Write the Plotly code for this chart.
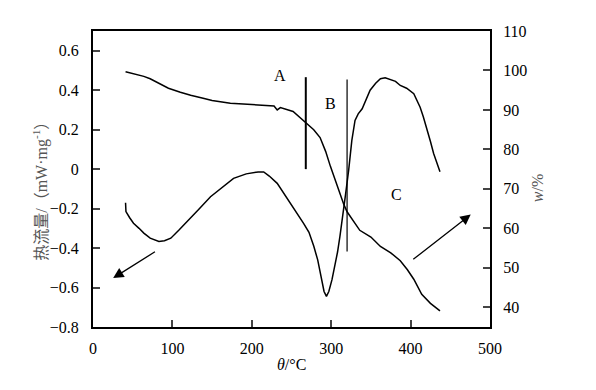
import plotly.graph_objects as go

# TG curve (right axis, w/%)
tg_t = [41, 50, 64, 72, 81, 95, 110, 123, 140, 150, 173, 195, 215, 228, 232, 236, 252, 261, 269,
        278, 286, 293, 299, 306, 312, 316, 320, 324, 336, 350, 362, 375, 387, 396, 404, 414, 425, 437]
tg_w = [99.7, 99.3, 98.5, 97.9, 97.0, 95.5, 94.5, 93.7, 92.9, 92.4, 91.7, 91.4, 91.3, 91.0, 90.0,
        90.6, 89.6, 88.0, 86.7, 85.0, 83.0, 79.5, 75.7, 71.5, 68.0, 66.0, 64.2, 63.1, 59.5, 57.8,
        55.4, 53.8, 51.8, 49.5, 47.1, 43.3, 41.0, 39.1]

# DSC curve (left axis, heat flow)
dsc_t = [41, 41.5, 46, 51, 58, 64, 72, 83, 90, 98, 108, 118, 133, 148, 163, 177, 193, 200, 208, 215,
         222, 232, 240, 248, 256, 265, 272, 278, 283, 287, 291, 294, 297, 301, 304, 308, 311, 315,
         318, 322, 326, 330, 334, 339, 344, 349, 356, 362, 368, 375, 381, 387, 395, 404, 408, 412,
         416, 420, 425, 429, 433, 437]
dsc_v = [-0.17, -0.215, -0.245, -0.274, -0.30, -0.324, -0.35, -0.367, -0.363, -0.35, -0.31, -0.266,
         -0.205, -0.14, -0.09, -0.047, -0.024, -0.018, -0.014, -0.014, -0.035, -0.072, -0.12, -0.173,
         -0.22, -0.274, -0.32, -0.39, -0.46, -0.55, -0.62, -0.645, -0.62, -0.56, -0.50, -0.42, -0.341,
         -0.23, -0.13, -0.005, 0.146, 0.247, 0.28, 0.306, 0.35, 0.40, 0.435, 0.458, 0.463, 0.455,
         0.445, 0.424, 0.41, 0.382, 0.35, 0.314, 0.265, 0.213, 0.14, 0.079, 0.03, -0.013]

x_ticks = [0, 100, 200, 300, 400, 500]
left_ticks = [-0.8, -0.6, -0.4, -0.2, 0, 0.2, 0.4, 0.6]
left_labels = ["\u22120.8", "\u22120.6", "\u22120.4", "\u22120.2", "0", "0.2", "0.4", "0.6"]
right_ticks = [40, 50, 60, 70, 80, 90, 100, 110]

# stage markers
line_a = dict(t=268, v0=0.0, v1=0.466)
line_b = dict(t=320, v0=-0.417, v1=0.454)
stage_labels = ["A", "B", "C"]
stage_t = [235, 299, 382]
stage_v = [0.474, 0.332, -0.131]

serif = "Liberation Serif, Times New Roman, serif"

fig = go.Figure()
fig.add_trace(go.Scatter(x=dsc_t, y=dsc_v, mode="lines", line=dict(color="black", width=1.5),
                         yaxis="y", showlegend=False))
fig.add_trace(go.Scatter(x=tg_t, y=tg_w, mode="lines", line=dict(color="black", width=1.5),
                         yaxis="y2", showlegend=False))

fig.add_shape(type="line", xref="x", yref="y", x0=line_a["t"], x1=line_a["t"],
              y0=line_a["v0"], y1=line_a["v1"], line=dict(color="black", width=2))
fig.add_shape(type="line", xref="x", yref="y", x0=line_b["t"], x1=line_b["t"],
              y0=line_b["v0"], y1=line_b["v1"], line=dict(color="black", width=1.2))

annotations = []
for lab, t, v in zip(stage_labels, stage_t, stage_v):
    annotations.append(dict(x=t, y=v, xref="x", yref="y", text=lab, showarrow=False,
                            font=dict(family=serif, size=16, color="black")))

# arrows
annotations.append(dict(x=25.4, y=-0.552, ax=79.9, ay=-0.414, xref="x", yref="y", axref="x",
                        ayref="y", text="", showarrow=True, arrowhead=2, arrowsize=1.6,
                        arrowwidth=1.3, arrowcolor="black"))
annotations.append(dict(x=475.7, y=-0.23, ax=401.5, ay=-0.463, xref="x", yref="y", axref="x",
                        ayref="y", text="", showarrow=True, arrowhead=2, arrowsize=1.6,
                        arrowwidth=1.3, arrowcolor="black"))

# axis titles (positions in window pixels, converted below)
annotations.append(dict(x=28, y=188, xref="paper", yref="paper", text="热流量/（mW·mg<sup>-1</sup>）",
                        showarrow=False, textangle=-90,
                        font=dict(family="Liberation Serif, Noto Sans CJK SC", size=16, color="#555")))
annotations.append(dict(x=291, y=376, xref="paper", yref="paper", text="<i>θ</i>/°C",
                        showarrow=False, font=dict(family=serif, size=16, color="black")))
annotations.append(dict(x=548, y=188, xref="paper", yref="paper", text="<i>w</i>/%",
                        showarrow=False, textangle=-90, font=dict(family=serif, size=16, color="#555")))

OFF = 8  # default body margin of the html page
L, R, T, B = 92.5 - OFF, 106, 31 - OFF, 62.5
W, H = 596 - OFF, 390 - OFF
pw, ph = W - L - R, H - T - B
for a in annotations[-3:]:
    px, py = a["x"] - OFF, a["y"] - OFF
    a["x"] = (px - L) / pw
    a["y"] = 1 - (py - T) / ph

fig.update_layout(
    width=W, height=H,
    margin=dict(l=L, r=R, t=T, b=B, pad=0),
    paper_bgcolor="white", plot_bgcolor="white",
    font=dict(family=serif, size=16, color="black"),
    xaxis=dict(range=[0, 500], tickvals=x_ticks, ticks="inside", ticklen=7, tickwidth=2,
               showline=True, linewidth=2, linecolor="black", mirror=True, showgrid=False,
               zeroline=False, tickfont=dict(family=serif, size=16), ticklabelstandoff=6),
    yaxis=dict(range=[-0.8, 0.7], tickvals=left_ticks, ticktext=left_labels, ticks="inside",
               ticklen=7, tickwidth=2, showline=True, linewidth=2, linecolor="black",
               showgrid=False, zeroline=False, tickfont=dict(family=serif, size=16),
               ticklabelstandoff=9),
    yaxis2=dict(range=[35, 110], tickvals=right_ticks, ticks="inside", ticklen=7, tickwidth=2,
                showline=True, linewidth=2, linecolor="black", overlaying="y", side="right",
                showgrid=False, zeroline=False, tickfont=dict(family=serif, size=16),
                ticklabelstandoff=8),
    annotations=annotations,
)

fig.write_html("out.html")
